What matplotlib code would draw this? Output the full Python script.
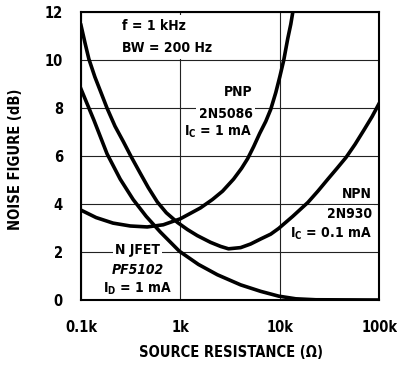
import matplotlib
matplotlib.use("Agg")
import matplotlib.pyplot as plt
from matplotlib.ticker import FixedLocator, NullLocator

plt.rcParams["font.family"] = ["DejaVu Sans"]
plt.rcParams["font.stretch"] = "condensed"
plt.rcParams["font.weight"] = "bold"
plt.rcParams["axes.labelweight"] = "bold"
plt.rcParams["mathtext.fontset"] = "custom"
plt.rcParams["mathtext.rm"] = "DejaVu Sans:weight=bold:stretch=condensed"

# values: source resistance (ohm) vs noise figure (dB)
pnp_rs = [100, 142, 210, 313, 464, 673, 1000, 1590, 2100, 2660, 3430, 4130, 4750, 5460, 6280, 7230,
          8110, 9120, 10000, 10970, 12040, 12920, 13530, 14500]
pnp_nf = [3.76, 3.45, 3.22, 3.1, 3.06, 3.15, 3.4, 3.85, 4.2, 4.55, 5.05, 5.5, 5.9, 6.4, 6.95, 7.45,
          7.95, 8.65, 9.3, 10.0, 10.9, 11.5, 12.0, 12.7]

npn_rs = [100, 110, 120, 138, 159, 183, 220, 266, 320, 394, 475, 586, 722, 933, 1180, 1480, 2010,
          2540, 3050, 4040, 5090, 6430, 8110, 9770, 13500, 19200, 24200, 30500, 37700, 46400, 57300,
          70500, 84900, 100000]
npn_nf = [11.45, 10.7, 10.05, 9.3, 8.65, 8.0, 7.25, 6.62, 5.98, 5.3, 4.7, 4.1, 3.65, 3.25, 2.95, 2.7,
          2.42, 2.25, 2.15, 2.2, 2.35, 2.56, 2.76, 3.0, 3.5, 4.08, 4.55, 5.05, 5.5, 5.95, 6.5,
          7.1, 7.65, 8.2]

jfet_rs = [100, 135, 183, 248, 335, 453, 628, 977, 1520, 2360, 4040, 6430, 9770, 14500, 23100, 100000]
jfet_nf = [8.8, 7.5, 6.1, 5.05, 4.2, 3.5, 2.85, 2.05, 1.5, 1.07, 0.65, 0.38, 0.18, 0.07, 0.03, 0.02]

x_ticks = [100, 1000, 10000, 100000]
x_tick_labels = ["0.1k", "1k", "10k", "100k"]
y_ticks = [0, 2, 4, 6, 8, 10, 12]

fig = plt.figure(figsize=(3.97, 3.66), dpi=100)
ax = fig.add_axes([0.204, 0.179, 0.751, 0.788])

ax.set_xscale("log")
ax.set_xlim(100, 100000)
ax.set_ylim(0, 12)
ax.xaxis.set_major_locator(FixedLocator(x_ticks))
ax.xaxis.set_minor_locator(NullLocator())
ax.set_xticklabels(x_tick_labels)
ax.set_yticks(y_ticks)
ax.tick_params(length=0, labelsize=10.5, pad=13)
ax.tick_params(axis="x", pad=14)
ax.grid(True, color="#222222", linewidth=0.8, zorder=0)
ax.set_axisbelow(True)
for spine in ax.spines.values():
    spine.set_linewidth(1.5)
    spine.set_color("black")

for rs, nf in [(pnp_rs, pnp_nf), (npn_rs, npn_nf), (jfet_rs, jfet_nf)]:
    ax.plot(rs, nf, color="black", linewidth=2.6, solid_joinstyle="round", zorder=3)

box = dict(facecolor="white", edgecolor="none", pad=1.5)
ax.text(0.138, 0.975, "f = 1 kHz\nBW = 200 Hz", transform=ax.transAxes, ha="left", va="top",
        fontsize=10, linespacing=1.7, bbox=dict(facecolor="white", edgecolor="none", pad=3), zorder=2)

ax.text(0.575, 0.722, "PNP", transform=ax.transAxes, ha="right", va="center", fontsize=10, bbox=box, zorder=2)
ax.text(0.575, 0.648, "2N5086", transform=ax.transAxes, ha="right", va="center", fontsize=10, bbox=box, zorder=2)
ax.text(0.575, 0.585, r"I$_\mathrm{C}$ = 1 mA", transform=ax.transAxes, ha="right", va="center",
        fontsize=10, bbox=box, zorder=2)

ax.text(0.975, 0.37, "NPN", transform=ax.transAxes, ha="right", va="center", fontsize=10, bbox=box, zorder=2)
ax.text(0.975, 0.30, "2N930", transform=ax.transAxes, ha="right", va="center", fontsize=10, bbox=box, zorder=2)
ax.text(0.975, 0.232, r"I$_\mathrm{C}$ = 0.1 mA", transform=ax.transAxes, ha="right", va="center",
        fontsize=10, bbox=box, zorder=2)

ax.text(0.19, 0.175, "N JFET", transform=ax.transAxes, ha="center", va="center", fontsize=10, bbox=box, zorder=2)
ax.text(0.19, 0.106, "PF5102", transform=ax.transAxes, ha="center", va="center", fontsize=10,
        style="italic", bbox=box, zorder=2)
ax.text(0.19, 0.04, r"I$_\mathrm{D}$ = 1 mA", transform=ax.transAxes, ha="center", va="center",
        fontsize=10, bbox=box, zorder=2)

ax.set_xlabel("SOURCE RESISTANCE (Ω)", fontsize=10.5, fontweight="bold")
ax.set_ylabel("NOISE FIGURE (dB)", fontsize=10.5, fontweight="bold")
ax.xaxis.set_label_coords(0.503, -0.182)
ax.xaxis.label.set_va("center")
ax.yaxis.set_label_coords(-0.218, 0.49)
ax.yaxis.label.set_va("center")

fig.savefig("out.png", dpi=100, facecolor="white")
